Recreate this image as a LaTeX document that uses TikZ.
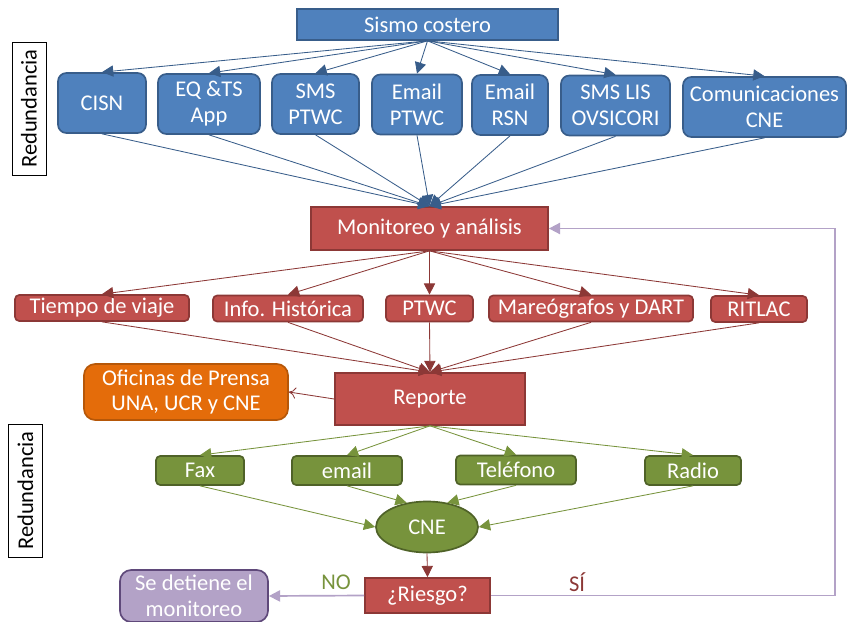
\documentclass[tikz,border=0pt]{standalone}
\usepackage{fontspec}
\setmainfont{Carlito}
\usetikzlibrary{arrows.meta,shapes.geometric}
\definecolor{bluefill}{HTML}{4F81BD}
\definecolor{blueline}{HTML}{385D8A}
\definecolor{redfill}{HTML}{C0504D}
\definecolor{redline}{HTML}{8C3836}
\definecolor{greenfill}{HTML}{77933C}
\definecolor{greenline}{HTML}{4F6228}
\definecolor{orangefill}{HTML}{E46C0A}
\definecolor{orangeline}{HTML}{B65708}
\definecolor{purplefill}{HTML}{B3A2C7}
\definecolor{purpleline}{HTML}{5F497A}
\tikzset{
  box/.style={line width=1.2pt, text=white, align=center, inner sep=2pt,
    font=\fontsize{16}{18.4}\selectfont},
  bluebox/.style={box, fill=bluefill, draw=blueline, rounded corners=6pt,
    minimum height=1.5cm},
  redbox/.style={box, fill=redfill, draw=redline},
  smallred/.style={redbox, rounded corners=3pt, minimum height=0.65cm},
  greenbox/.style={box, fill=greenfill, draw=greenline, rounded corners=3pt,
    minimum height=0.725cm},
  notebox/.style={draw, line width=0.6pt, rotate=90, inner sep=2pt,
    minimum width=3.325cm, minimum height=0.85cm,
    font=\fontsize{16}{18.4}\selectfont},
  tip/.style={-{Triangle[length=8pt,width=8pt]}},
  bluearrow/.style={tip, draw=blueline, line width=0.6pt},
  redarrow/.style={tip, draw=redline, line width=0.6pt},
  greenarrow/.style={tip, draw=greenfill, line width=0.6pt},
  purplearrow/.style={tip, draw=purplefill, line width=1.2pt}
}

\begin{document}
\begin{tikzpicture}[x=0.025cm, y=-0.025cm]
  \useasboundingbox (0,0) rectangle (847,622);

  % origin
  \node[box, fill=bluefill, draw=blueline, minimum width=6.525cm,
    minimum height=0.775cm] (sismo) at (427.5,24.5) {Sismo costero};

  % sources
  \node[bluebox, minimum width=2.2cm]   (cisn)   at (102,103)   {CISN};
  \node[bluebox, minimum width=2.55cm]  (eqts)   at (209,104)   {EQ \&TS\\App};
  \node[bluebox, minimum width=2.175cm] (smsp)   at (315.5,104) {SMS\\PTWC};
  \node[bluebox, minimum width=2.25cm]  (emailp) at (417,104.5) {Email\\PTWC};
  \node[bluebox, minimum width=1.9cm]   (emailr) at (510,105)   {Email\\RSN};
  \node[bluebox, minimum width=2.725cm] (smslis) at (615.5,105.5) {SMS LIS\\OVSICORI};
  \node[bluebox, minimum width=4.075cm] (comcne) at (764.5,107) {Comunicaciones\\CNE};

  % monitoring
  \node[redbox, minimum width=5.925cm, minimum height=1.075cm]
    (monitor) at (429.5,228.5) {Monitoreo y análisis};

  \foreach \src in {cisn,eqts,smsp,emailp,emailr,smslis,comcne}{
    \draw[bluearrow] (sismo.south) -- (\src.north);
    \draw[bluearrow] (\src.south) -- (monitor.north);
  }

  % analysis inputs
  \node[smallred, minimum width=4.35cm]  (tiempo) at (102,308)   {Tiempo de viaje};
  \node[smallred, minimum width=3.75cm]  (info)   at (288,308.5) {Info. Histórica};
  \node[smallred, minimum width=2.175cm] (ptwc)   at (429.5,308.5) {PTWC};
  \node[smallred, minimum width=5.1cm]   (mareo)  at (591,308.5) {Mareógrafos y DART};
  \node[smallred, minimum width=2.4cm]   (ritlac) at (759,309)   {RITLAC};

  % report
  \node[redbox, minimum width=4.75cm, minimum height=1.3cm]
    (reporte) at (430,399) {Reporte};
  \node[box, fill=orangefill, draw=orangeline, rounded corners=8pt,
    minimum width=5.1cm, minimum height=1.4cm]
    (prensa) at (186,392) {Oficinas de Prensa\\UNA, UCR y CNE};

  \foreach \inp in {tiempo,info,ptwc,mareo,ritlac}{
    \draw[redarrow] (monitor.south) -- (\inp.north);
    \draw[redarrow] (\inp.south) -- (reporte.north);
  }
  \draw[-{To[length=5pt,width=8pt]}, draw=redline, line width=0.6pt]
    (reporte.west) -- (prensa.east);

  % channels
  \node[greenbox, minimum width=2.2cm]  (fax)      at (200,470.5) {Fax};
  \node[greenbox, minimum width=2.75cm] (email)    at (347,470.5) {email};
  \node[greenbox, minimum width=3cm]    (telefono) at (516,470)   {Teléfono};
  \node[greenbox, minimum width=2.4cm]  (radio)    at (693,470.5) {Radio};
  \node[box, ellipse, fill=greenfill, draw=greenline, minimum width=2.55cm,
    minimum height=1.275cm] (cne) at (427,527) {CNE};

  \foreach \ch in {fax,email,telefono,radio}
    \draw[greenarrow] (reporte.south) -- (\ch.north);
  \draw[greenarrow] (fax.south) -- (cne.west);
  \draw[greenarrow] (email.south) -- (cne.130);
  \draw[greenarrow] (telefono.south) -- (cne.50);
  \draw[greenarrow] (radio.south) -- (cne.east);

  % decision
  \node[redbox, minimum width=3.125cm, minimum height=0.875cm]
    (riesgo) at (427.5,595.5) {¿Riesgo?};
  \node[box, fill=purplefill, draw=purpleline, rounded corners=8pt,
    minimum width=3.7cm, minimum height=1.3cm]
    (detiene) at (194,596) {Se detiene el\\monitoreo};
  \draw[redarrow] (cne.south) -- (riesgo.north);

  \draw[purplearrow] (riesgo.west) -- (detiene.east);
  \node[text=greenfill, font=\fontsize{16}{18.4}\selectfont] (no) at (336,582) {NO};
  \coordinate (loop) at (835,229);
  \draw[purplearrow] (riesgo.east) -| (loop) |- (monitor.east);
  \node[text=redline, font=\fontsize{16}{18.4}\selectfont] (si) at (577,582) {SÍ};

  % redundancy notes
  \node[notebox] (red1) at (29,108.5) {Redundancia};
  \node[notebox] (red2) at (25.5,490.5) {Redundancia};
\end{tikzpicture}
\end{document}
